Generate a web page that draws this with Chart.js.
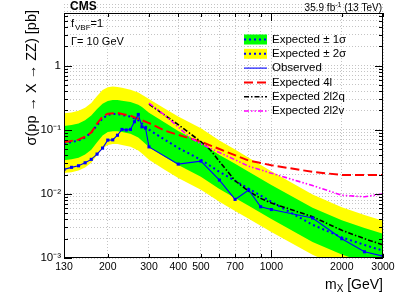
<!DOCTYPE html>
<html>
<head>
<meta charset="utf-8">
<script src="https://cdn.jsdelivr.net/npm/chart.js@4/dist/chart.umd.min.js"></script>
<style>
  html, body { margin: 0; padding: 0; background: #fff; }
  #wrap { width: 399px; height: 299px; }
</style>
</head>
<body>
<div id="wrap"><canvas id="c" width="399" height="299"></canvas></div>
<script>
// masses where the expected limit and its bands are read
const massExp = [130,140,150,160,170,180,190,200,210,220,230,250,270,280,300,350,400,500,600,700,800,1000,1500,2000,2500,3000];
const expMedian = [0.062,0.064,0.068,0.076,0.090,0.118,0.150,0.170,0.176,0.176,0.170,0.160,0.140,0.125,0.100,0.070,0.052,0.034,0.022,0.016,0.012,0.0075,0.0033,0.0021,0.0016,0.0013];
const expMinus2 = [0.0211,0.0218,0.0231,0.0258,0.0306,0.0401,0.0510,0.0578,0.0598,0.0598,0.0578,0.0544,0.0476,0.0425,0.0340,0.0238,0.0177,0.0116,0.0075,0.0054,0.0041,0.00255,0.00112,0.00071,0.00054,0.00044];
const expMinus1 = [0.0335,0.0346,0.0367,0.0410,0.0486,0.0637,0.0810,0.0918,0.0950,0.0950,0.0918,0.0864,0.0756,0.0675,0.0540,0.0378,0.0281,0.0184,0.0119,0.0086,0.0065,0.00405,0.00178,0.00113,0.00086,0.00070];
const expPlus1 = [0.114,0.118,0.125,0.140,0.166,0.210,0.255,0.280,0.290,0.290,0.283,0.270,0.245,0.225,0.184,0.129,0.0957,0.0626,0.0405,0.0294,0.0221,0.0138,0.00607,0.00386,0.00294,0.00239];
const expPlus2 = [0.180,0.186,0.197,0.220,0.261,0.335,0.415,0.460,0.470,0.465,0.450,0.420,0.380,0.350,0.300,0.215,0.160,0.105,0.0680,0.0490,0.0365,0.0225,0.00980,0.00620,0.00470,0.00380];

// observed limit
const massObs = [130,140,150,160,170,180,190,200,210,220,230,240,250,260,270,280,290,300,400,500,600,700,800,900,1000,1500,2000,2500,3000];
const observed = [0.0241,0.0259,0.0274,0.0305,0.0345,0.0417,0.0517,0.0689,0.0695,0.082,0.101,0.099,0.101,0.133,0.173,0.111,0.106,0.054,0.0291,0.0324,0.0164,0.0082,0.0115,0.0063,0.0057,0.0042,0.0020,0.00125,0.00107];

// expected per channel
const mass4l = [130,150,160,170,180,190,200,220,250,300,350,400,500,600,800,1000,1500,2000,3000];
const exp4l = [0.064,0.070,0.078,0.090,0.125,0.160,0.178,0.182,0.165,0.127,0.097,0.083,0.065,0.050,0.033,0.028,0.022,0.0197,0.0197];
const mass2l2q = [300,400,500,550,600,700,800,900,1000,1500,2000,2500,3000];
const exp2l2q = [0.25,0.12,0.065,0.048,0.032,0.016,0.011,0.0085,0.0072,0.0044,0.0027,0.0020,0.0016];
const mass2l2v = [300,350,400,450,500,600,700,800,1000,1500,2000,2500,3000];
const exp2l2v = [0.26,0.17,0.11,0.075,0.060,0.044,0.034,0.027,0.021,0.0135,0.0095,0.0090,0.0100];

// axis ticks
const xTicks = [130,200,300,400,500,600,700,800,900,1000,2000,3000];
const xLabels = [130,200,300,400,500,700,1000,2000,3000];
const yTicks = [];
[0.001,0.01,0.1,1].forEach(d => { for (let k = 1; k <= 9; k++) yTicks.push(+(d * k).toPrecision(3)); });
const yLabels = { 0.001: '10\u207B\u00B3', 0.01: '10\u207B\u00B2', 0.1: '10\u207B\u00B9', 1: '1' };

const FONT = '"Liberation Sans", Arial, sans-serif';
const pts = (xs, ys) => xs.map((x, i) => ({ x: x, y: ys[i] }));

const bandStyle = { pointRadius: 0, borderWidth: 0, tension: 0 };

const datasets = [
  Object.assign({ label: 'y+', data: pts(massExp, expPlus2), fill: 1, backgroundColor: '#ffff00', borderColor: '#ffff00', order: 10 }, bandStyle),
  Object.assign({ label: 'y-', data: pts(massExp, expMinus2), fill: false, order: 10 }, bandStyle),
  Object.assign({ label: 'g+', data: pts(massExp, expPlus1), fill: 3, backgroundColor: '#00ff00', borderColor: '#00ff00', order: 9 }, bandStyle),
  Object.assign({ label: 'g-', data: pts(massExp, expMinus1), fill: false, order: 9 }, bandStyle),
  { label: 'Expected', data: pts(massExp, expMedian), borderColor: '#0000ff', borderWidth: 2, borderDash: [2, 3], pointRadius: 0, fill: false, order: 6 },
  { label: 'Expected 4l', data: pts(mass4l, exp4l), borderColor: '#ff0000', borderWidth: 2, borderDash: [9, 4], pointRadius: 0, fill: false, order: 5 },
  { label: 'Expected 2l2q', data: pts(mass2l2q, exp2l2q), borderColor: '#000000', borderWidth: 1.6, borderDash: [5, 2, 1.5, 2], pointRadius: 0, fill: false, order: 4 },
  { label: 'Expected 2l2v', data: pts(mass2l2v, exp2l2v), borderColor: '#ff00ff', borderWidth: 1.6, borderDash: [5, 2, 1.5, 2, 1.5, 2], pointRadius: 0, fill: false, order: 3 },
  { label: 'Observed', data: pts(massObs, observed), borderColor: '#0000ff', backgroundColor: '#0000ff', borderWidth: 1.1, pointStyle: 'rect', pointRadius: 2.2, pointBorderWidth: 0, fill: false, order: 1 }
];

// frame, inner ticks, texts and legend drawn the ROOT way
const decor = {
  id: 'decor',
  afterDraw(chart) {
    const ctx = chart.ctx, a = chart.chartArea;
    const xs = chart.scales.x, ys = chart.scales.y;
    ctx.save();
    ctx.strokeStyle = '#000';
    ctx.lineWidth = 1;
    ctx.strokeRect(a.left + 0.5, a.top + 0.5, a.right - a.left - 1, a.bottom - a.top - 1);

    // ticks inside the frame
    ctx.beginPath();
    yTicks.forEach(v => {
      if (v > ys.max) return;
      const y = Math.round(ys.getPixelForValue(v)) + 0.5;
      const len = yLabels[v] ? 8 : 4;
      ctx.moveTo(a.left, y); ctx.lineTo(a.left + len, y);
      ctx.moveTo(a.right, y); ctx.lineTo(a.right - len, y);
    });
    xTicks.forEach(v => {
      const x = Math.round(xs.getPixelForValue(v)) + 0.5;
      const len = (v === 1000) ? 8 : 4;
      ctx.moveTo(x, a.bottom); ctx.lineTo(x, a.bottom - len);
      ctx.moveTo(x, a.top); ctx.lineTo(x, a.top + len);
    });
    ctx.stroke();

    ctx.fillStyle = '#000';
    ctx.textBaseline = 'middle';
    ctx.font = 'bold 12px ' + FONT;
    ctx.textAlign = 'left';
    ctx.fillText('CMS', 70, 7);
    ctx.font = '10px ' + FONT;
    ctx.textAlign = 'right';
    ctx.fillText(' (13 TeV)', 382, 8);
    let w = ctx.measureText(' (13 TeV)').width;
    ctx.font = '7px ' + FONT;
    const wsup = ctx.measureText('-1').width;
    ctx.fillText('-1', 382 - w, 5);
    ctx.font = '10px ' + FONT;
    ctx.fillText('35.9 fb', 382 - w - wsup, 8);

    // model labels
    ctx.textAlign = 'left';
    ctx.font = '11px ' + FONT;
    ctx.fillText('f', 71, 24);
    ctx.font = '8px ' + FONT;
    ctx.fillText('VBF', 75, 28);
    const wv = ctx.measureText('VBF').width;
    ctx.font = '11px ' + FONT;
    ctx.fillText('=1', 75 + wv, 24);
    ctx.fillText('\u0393= 10 GeV', 71, 42);

    // axis titles
    ctx.font = '14px ' + FONT;
    ctx.textAlign = 'right';
    ctx.fillText('[GeV]', 383, 285);
    const wg = ctx.measureText(' [GeV]').width;
    ctx.font = '10px ' + FONT;
    ctx.fillText('X', 383 - wg, 289);
    const wx = ctx.measureText('X').width;
    ctx.font = '14px ' + FONT;
    ctx.fillText('m', 383 - wg - wx, 285);

    ctx.save();
    ctx.translate(32, 10);
    ctx.rotate(-Math.PI / 2);
    ctx.textAlign = 'right';
    ctx.font = '14.5px ' + FONT;
    ctx.fillText('\u03C3(pp \u2192 X \u2192 ZZ) [pb]', 0, 0);
    ctx.restore();

    // legend
    const ds = chart.data.datasets;
    const rows = [
      { text: 'Expected \u00B1 1\u03C3', fill: '#00ff00', line: ds[4] },
      { text: 'Expected \u00B1 2\u03C3', fill: '#ffff00', line: ds[4] },
      { text: 'Observed', line: ds[8] },
      { text: 'Expected 4l', line: ds[5] },
      { text: 'Expected 2l2q', line: ds[6] },
      { text: 'Expected 2l2v', line: ds[7] }
    ];
    const lx0 = 244, lx1 = 267, ly0 = 39.5, dy = 14.3;
    rows.forEach((r, i) => {
      const y = ly0 + i * dy;
      if (r.fill) { ctx.fillStyle = r.fill; ctx.fillRect(lx0, y - 5, lx1 - lx0, 10); }
      ctx.strokeStyle = r.line.borderColor;
      ctx.lineWidth = r.line.borderWidth;
      ctx.setLineDash(r.line.borderDash || []);
      ctx.beginPath(); ctx.moveTo(lx0, y); ctx.lineTo(lx1, y); ctx.stroke();
      ctx.setLineDash([]);
      ctx.fillStyle = '#000';
      ctx.textAlign = 'left';
      ctx.font = '11.5px ' + FONT;
      ctx.fillText(r.text, 272, y);
    });
    ctx.restore();
  }
};

new Chart(document.getElementById('c'), {
  type: 'line',
  data: { datasets: datasets },
  options: {
    responsive: false,
    animation: false,
    layout: { padding: { top: 13, right: 16, left: 0, bottom: 0 } },
    plugins: { legend: { display: false }, tooltip: { enabled: false } },
    elements: { line: { tension: 0 } },
    scales: {
      x: {
        type: 'logarithmic', min: 130, max: 3000,
        afterBuildTicks: s => { s.ticks = xTicks.map(v => ({ value: v })); },
        afterFit: s => { s.height = 41; },
        ticks: {
          autoSkip: false, maxRotation: 0, padding: 3, color: '#000',
          font: { size: 10.5, family: FONT },
          callback: v => xLabels.includes(v) ? String(v) : ''
        },
        grid: { color: '#c4c4c4', lineWidth: 1, drawTicks: false },
        border: { display: false, dash: [1, 2] }
      },
      y: {
        type: 'logarithmic', min: 0.001, max: 6.6,
        afterBuildTicks: s => { s.ticks = yTicks.map(v => ({ value: v })); },
        afterFit: s => { s.width = 64; },
        ticks: {
          autoSkip: false, padding: 3, color: '#000',
          font: { size: 11.5, family: FONT },
          callback: v => yLabels[v] || ''
        },
        grid: { color: '#c4c4c4', lineWidth: 1, drawTicks: false },
        border: { display: false, dash: [1, 2] }
      }
    }
  },
  plugins: [decor]
});
</script>
</body>
</html>
